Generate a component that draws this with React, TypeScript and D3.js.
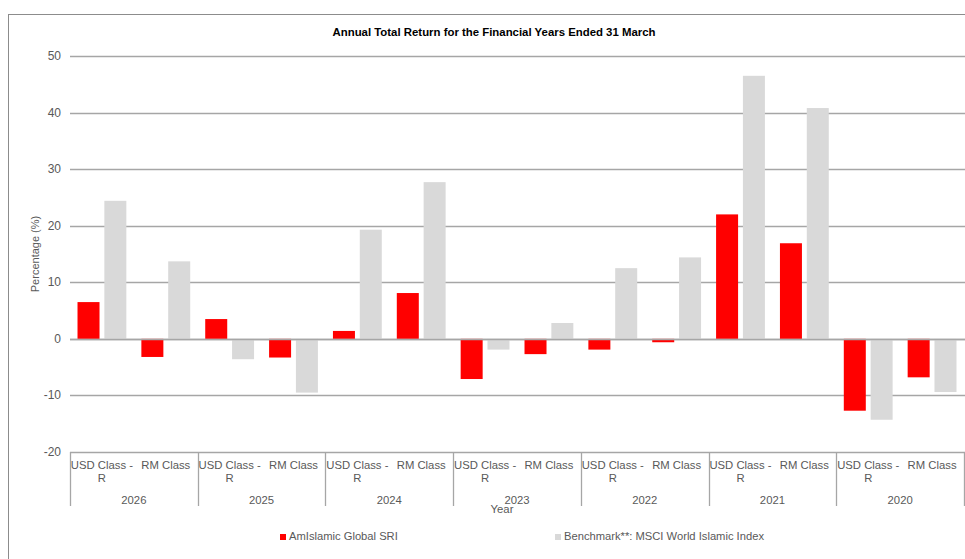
import React, { useEffect, useRef } from "react"
import * as d3 from "d3"

const years = ["2026", "2025", "2024", "2023", "2022", "2021", "2020"]
const classes = ["USD Class - R", "RM Class"]
const seriesNames = ["AmIslamic Global SRI", "Benchmark**: MSCI World Islamic Index"]
const seriesColors = ["#ff0000", "#d9d9d9"]

// fund returns, [USD, RM] per year
const fundReturns = [
  [6.5, -3.2],
  [3.5, -3.3],
  [1.4, 8.1],
  [-7.1, -2.7],
  [-1.9, -0.6],
  [22.0, 16.9],
  [-12.7, -6.8],
]
// benchmark returns, [USD, RM] per year
const benchReturns = [
  [24.4, 13.7],
  [-3.6, -9.5],
  [19.3, 27.7],
  [-1.9, 2.8],
  [12.5, 14.4],
  [46.5, 40.8],
  [-14.3, -9.4],
]
const yTicks = [50, 40, 30, 20, 10, 0, -10, -20]

const W = 965
const H = 559
const left = 70
const right = 964
const top = 56
const bottom = 452
const font = "'Liberation Sans', Arial, sans-serif"

export default function App() {
  const ref = useRef<SVGSVGElement>(null)

  useEffect(() => {
    document.body.style.margin = "0"
    const svg = d3.select(ref.current)
    svg.selectAll("*").remove()

    const y = d3.scaleLinear().domain([-20, 50]).range([bottom, top])
    const xYear = d3.scaleBand().domain(years).range([left, right])
    const xClass = d3.scaleBand().domain(classes).range([0, xYear.bandwidth()])
    const xSeries = d3
      .scaleBand()
      .domain(seriesNames)
      .range([0, xClass.bandwidth()])
      .paddingInner(0.18)
      .paddingOuter(0.28)

    // outer border
    svg.append("rect")
      .attr("x", 8.5).attr("y", 14.5)
      .attr("width", W).attr("height", H)
      .attr("fill", "none").attr("stroke", "#8c8c8c").attr("stroke-width", 1)

    svg.append("text")
      .attr("x", 494).attr("y", 36)
      .attr("text-anchor", "middle")
      .attr("font-family", "'Liberation Sans Narrow', 'Liberation Sans', Arial, sans-serif")
      .attr("font-weight", "bold")
      .attr("font-size", 11.4)
      .attr("fill", "#000")
      .text("Annual  Total Return for the Financial Years Ended 31 March")

    // gridlines
    svg.append("g")
      .selectAll("line")
      .data(yTicks)
      .join("line")
      .attr("x1", left).attr("x2", W)
      .attr("y1", d => Math.round(y(d)) + 0.5)
      .attr("y2", d => Math.round(y(d)) + 0.5)
      .attr("stroke", "#a6a6a6")
      .attr("stroke-width", 1.3)

    svg.append("g")
      .selectAll("text")
      .data(yTicks)
      .join("text")
      .attr("x", 61)
      .attr("y", d => y(d) + 4)
      .attr("text-anchor", "end")
      .attr("font-family", font)
      .attr("font-size", 12)
      .attr("fill", "#595959")
      .text(d => d)

    svg.append("text")
      .attr("transform", `translate(39,${(top + bottom) / 2}) rotate(-90)`)
      .attr("text-anchor", "middle")
      .attr("font-family", font)
      .attr("font-size", 11)
      .attr("fill", "#595959")
      .text("Percentage (%)")

    // bars
    const bars: { year: string; cls: string; s: string; v: number; i: number }[] = []
    years.forEach((yr, yi) => {
      classes.forEach((c, ci) => {
        bars.push({ year: yr, cls: c, s: seriesNames[0], v: fundReturns[yi][ci], i: 0 })
        bars.push({ year: yr, cls: c, s: seriesNames[1], v: benchReturns[yi][ci], i: 1 })
      })
    })
    svg.append("g")
      .selectAll("rect")
      .data(bars)
      .join("rect")
      .attr("x", d => (xYear(d.year) as number) + (xClass(d.cls) as number) + (xSeries(d.s) as number))
      .attr("width", xSeries.bandwidth())
      .attr("y", d => y(Math.max(0, d.v)))
      .attr("height", d => Math.abs(y(d.v) - y(0)))
      .attr("fill", d => seriesColors[d.i])

    // zero line on top
    svg.append("line")
      .attr("x1", left).attr("x2", W)
      .attr("y1", Math.round(y(0)) + 0.5).attr("y2", Math.round(y(0)) + 0.5)
      .attr("stroke", "#a6a6a6").attr("stroke-width", 1.3)

    // category table
    const bounds = years.map(yr => xYear(yr) as number).concat([right])
    svg.append("g")
      .selectAll("line")
      .data(bounds)
      .join("line")
      .attr("x1", d => Math.round(d) + 0.5).attr("x2", d => Math.round(d) + 0.5)
      .attr("y1", bottom).attr("y2", 506)
      .attr("stroke", "#a6a6a6").attr("stroke-width", 1.3)

    const catG = svg.append("g")
      .attr("font-family", font)
      .attr("font-size", 11.3)
      .attr("fill", "#595959")
      .attr("text-anchor", "middle")
    years.forEach(yr => {
      const x0 = xYear(yr) as number
      classes.forEach(c => {
        const cx = x0 + (xClass(c) as number) + xClass.bandwidth() / 2
        const parts = c === "USD Class - R" ? ["USD Class -", "R"] : ["RM Class"]
        parts.forEach((p, pi) => {
          catG.append("text").attr("x", cx).attr("y", 469 + pi * 13).text(p)
        })
      })
      catG.append("text")
        .attr("x", x0 + xYear.bandwidth() / 2)
        .attr("y", 504)
        .text(yr)
    })

    svg.append("text")
      .attr("x", 502).attr("y", 513)
      .attr("text-anchor", "middle")
      .attr("font-family", font)
      .attr("font-size", 11.3)
      .attr("fill", "#595959")
      .text("Year")

    // legend
    const legendX = [280, 555]
    const legend = svg.append("g")
      .selectAll("g")
      .data(seriesNames)
      .join("g")
      .attr("transform", (d, i) => `translate(${legendX[i]},534)`)
    legend.append("rect")
      .attr("width", 6).attr("height", 6)
      .attr("fill", (d, i) => seriesColors[i])
    legend.append("text")
      .attr("x", 9).attr("y", 6)
      .attr("font-family", font)
      .attr("font-size", 11.2)
      .attr("fill", "#595959")
      .text(d => d)
  }, [])

  return <svg ref={ref} width={W} height={H} style={{ display: "block", background: "#fff" }} />
}
